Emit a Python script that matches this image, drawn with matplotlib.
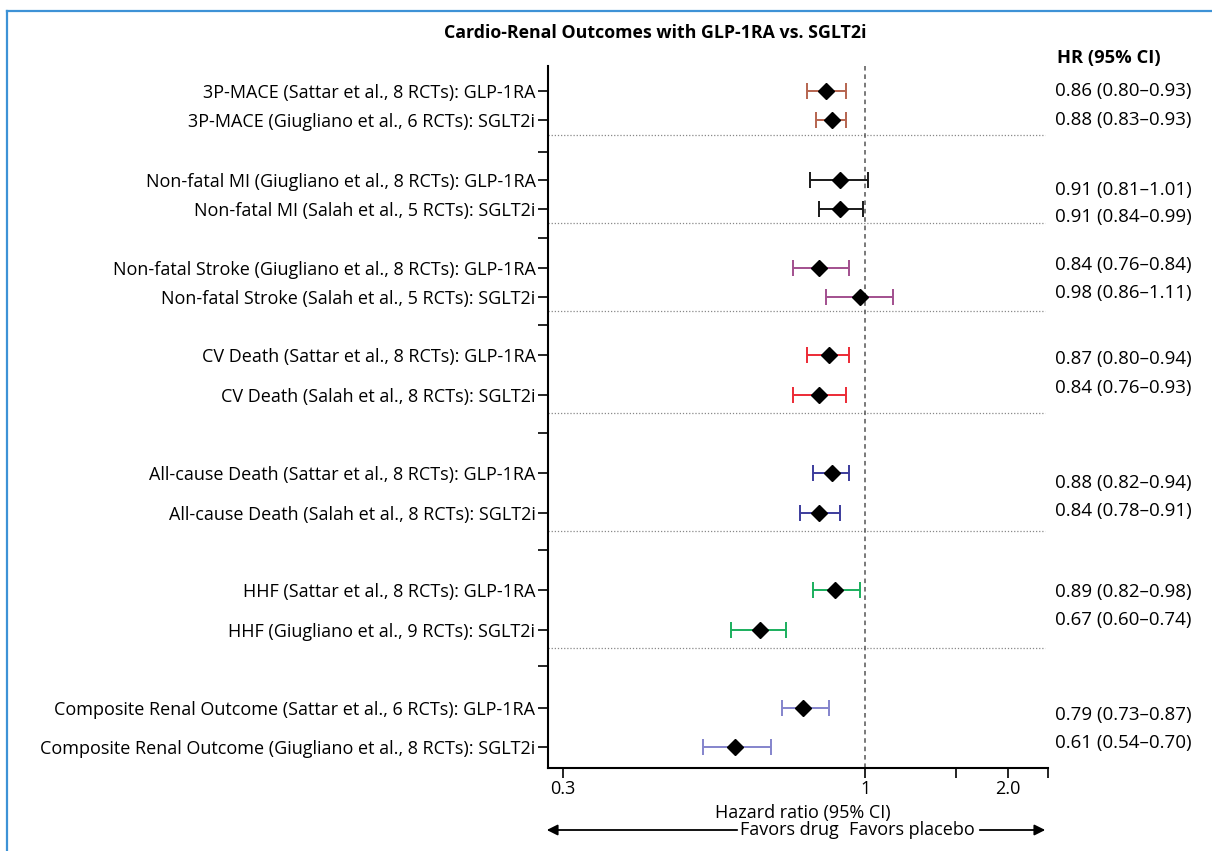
import matplotlib
matplotlib.use("Agg")
import matplotlib.pyplot as plt

plt.rcParams['font.family'] = ['Open Sans', 'DejaVu Sans']

# ---------------- data ----------------
labels = [
    "3P-MACE (Sattar et al., 8 RCTs): GLP-1RA",
    "3P-MACE (Giugliano et al., 6 RCTs): SGLT2i",
    "Non-fatal MI (Giugliano et al., 8 RCTs): GLP-1RA",
    "Non-fatal MI (Salah et al., 5 RCTs): SGLT2i",
    "Non-fatal Stroke (Giugliano et al., 8 RCTs): GLP-1RA",
    "Non-fatal Stroke (Salah et al., 5 RCTs): SGLT2i",
    "CV Death (Sattar et al., 8 RCTs): GLP-1RA",
    "CV Death (Salah et al., 8 RCTs): SGLT2i",
    "All-cause Death (Sattar et al., 8 RCTs): GLP-1RA",
    "All-cause Death (Salah et al., 8 RCTs): SGLT2i",
    "HHF (Sattar et al., 8 RCTs): GLP-1RA",
    "HHF (Giugliano et al., 9 RCTs): SGLT2i",
    "Composite Renal Outcome (Sattar et al., 6 RCTs): GLP-1RA",
    "Composite Renal Outcome (Giugliano et al., 8 RCTs): SGLT2i",
]
hr = [0.86, 0.88, 0.91, 0.91, 0.84, 0.98, 0.87, 0.84, 0.88, 0.84, 0.89, 0.67, 0.79, 0.61]
ci_low = [0.80, 0.83, 0.81, 0.84, 0.76, 0.86, 0.80, 0.76, 0.82, 0.78, 0.82, 0.60, 0.73, 0.54]
ci_high = [0.93, 0.93, 1.01, 0.99, 0.94, 1.11, 0.94, 0.93, 0.94, 0.91, 0.98, 0.74, 0.87, 0.70]
hr_text = [
    "0.86 (0.80\u20130.93)", "0.88 (0.83\u20130.93)",
    "0.91 (0.81\u20131.01)", "0.91 (0.84\u20130.99)",
    "0.84 (0.76\u20130.84)", "0.98 (0.86\u20131.11)",
    "0.87 (0.80\u20130.94)", "0.84 (0.76\u20130.93)",
    "0.88 (0.82\u20130.94)", "0.84 (0.78\u20130.91)",
    "0.89 (0.82\u20130.98)", "0.67 (0.60\u20130.74)",
    "0.79 (0.73\u20130.87)", "0.61 (0.54\u20130.70)",
]
group_colors = ["#b5644f", "#1a1a1a", "#a24f8e", "#ec2a35", "#3c3c9c", "#1aaf5d", "#8484cc"]

xtick_vals = [0.317, 1.0, 1.41, 1.72, 2.0]
xtick_labels = ["0.3", "1", "", "2.0", ""]

# ---------------- layout (pixel positions of the reference) ----------------
W, H = 1212, 851
row_y = [91, 120, 180, 209, 268, 297, 355, 395, 473, 513, 590, 630, 708, 747]
blank_y = [152, 238, 325, 433, 550, 666]
sep_y = [135, 223, 311, 413, 531, 648]
text_y = [91, 120, 190, 217, 265, 293, 359, 388, 483, 511, 592, 620, 715, 743]
FS = 13.0
FS_HR = 13.5

def fx(px):
    return px / W

def fy(py):
    return 1 - py / H

fig = plt.figure(figsize=(W / 100, H / 100), dpi=100)
ax = fig.add_axes([fx(548), fy(768), fx(1048) - fx(548), fy(66) - fy(768)])

ax.set_xscale('log')
ax.set_xlim(0.3, 2.0)
ax.set_ylim(768, 66)

for i in range(len(hr)):
    c = group_colors[i // 2]
    ax.errorbar([hr[i]], [row_y[i]],
                xerr=[[hr[i] - ci_low[i]], [ci_high[i] - hr[i]]],
                fmt='none', ecolor=c, elinewidth=1.4, capsize=5.5, capthick=1.4, zorder=3)
    ax.plot([hr[i]], [row_y[i]], marker='D', color='black', markersize=8.5,
            linestyle='none', zorder=4)

for s in sep_y:
    ax.plot([0.3, 1.98], [s, s], color='#888888', linestyle=(0, (1, 1.5)), linewidth=0.9, zorder=1)

ax.axvline(1.0, color='#555555', linestyle=(0, (3, 2.5)), linewidth=1.1, zorder=2)

yt = sorted(row_y + blank_y)
ylab = []
for y in yt:
    ylab.append(labels[row_y.index(y)] if y in row_y else "")
ax.set_yticks(yt)
ax.set_yticklabels(ylab, fontsize=FS)
ax.set_xticks(xtick_vals)
ax.set_xticklabels(xtick_labels, fontsize=FS)
ax.xaxis.set_minor_locator(matplotlib.ticker.NullLocator())
ax.tick_params(axis='both', length=7, width=1.2, direction='out', color='black', pad=2)

for side in ['top', 'right']:
    ax.spines[side].set_visible(False)
for side in ['left', 'bottom']:
    ax.spines[side].set_linewidth(1.5)

# HR column
fig.text(fx(1057), fy(58), "HR (95% CI)", fontsize=13.2, fontweight='bold', va='center', ha='left')
for t, y in zip(hr_text, text_y):
    fig.text(fx(1055), fy(y), t, fontsize=FS_HR, va='center', ha='left')

# title
fig.text(fx(655), fy(33), "Cardio-Renal Outcomes with GLP-1RA vs. SGLT2i",
         fontsize=12.8, fontweight='bold', ha='center', va='center')

# x label and arrows
fig.text(fx(803), fy(813), "Hazard ratio (95% CI)", fontsize=FS, ha='center', va='center')
fig.text(fx(839), fy(830), "Favors drug", fontsize=FS, ha='right', va='center')
fig.text(fx(849), fy(830), "Favors placebo", fontsize=FS, ha='left', va='center')
fig.patches.append(matplotlib.patches.FancyArrowPatch(
    (fx(740), fy(830)), (fx(544), fy(830)), transform=fig.transFigure,
    arrowstyle='-|>', mutation_scale=16, linewidth=1.3, color='black'))
fig.patches.append(matplotlib.patches.FancyArrowPatch(
    (fx(977), fy(830)), (fx(1048), fy(830)), transform=fig.transFigure,
    arrowstyle='-|>', mutation_scale=16, linewidth=1.3, color='black'))

# blue frame (top and left)
fig.add_artist(matplotlib.lines.Line2D([fx(7), 1.0], [fy(11), fy(11)],
                                       transform=fig.transFigure, color='#3d92d6', linewidth=1.6))
fig.add_artist(matplotlib.lines.Line2D([fx(7), fx(7)], [fy(11), 0.0],
                                       transform=fig.transFigure, color='#3d92d6', linewidth=1.6))

fig.savefig("out.png", dpi=100)
